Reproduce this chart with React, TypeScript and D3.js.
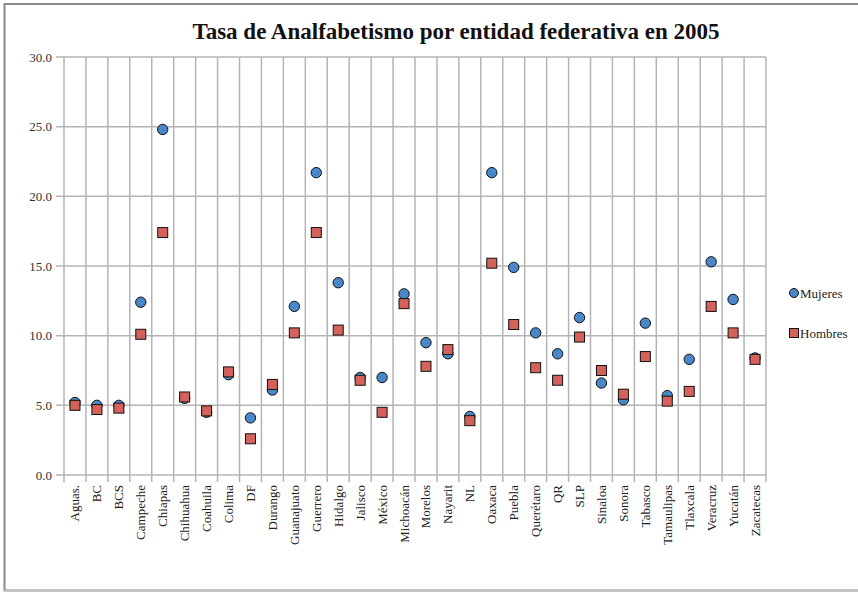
import React from "react";
import * as d3 from "d3";

const categories = ["Aguas.", "BC", "BCS", "Campeche", "Chiapas", "Chihuahua", "Coahuila", "Colima", "DF", "Durango", "Guanajuato", "Guerrero", "Hidalgo", "Jalisco", "México", "Michoacán", "Morelos", "Nayarit", "NL", "Oaxaca", "Puebla", "Querétaro", "QR", "SLP", "Sinaloa", "Sonora", "Tabasco", "Tamaulipas", "Tlaxcala", "Veracruz", "Yucatán", "Zacatecas"];
const mujeres = [5.2, 5.0, 5.0, 12.4, 24.8, 5.5, 4.5, 7.2, 4.1, 6.1, 12.1, 21.7, 13.8, 7.0, 7.0, 13.0, 9.5, 8.7, 4.2, 21.7, 14.9, 10.2, 8.7, 11.3, 6.6, 5.4, 10.9, 5.7, 8.3, 15.3, 12.6, 8.4];
const hombres = [5.0, 4.7, 4.8, 10.1, 17.4, 5.6, 4.6, 7.4, 2.6, 6.5, 10.2, 17.4, 10.4, 6.8, 4.5, 12.3, 7.8, 9.0, 3.9, 15.2, 10.8, 7.7, 6.8, 9.9, 7.5, 5.8, 8.5, 5.3, 6.0, 12.1, 10.2, 8.3];
const yTicks = [0, 5, 10, 15, 20, 25, 30];
const title = "Tasa de Analfabetismo por entidad federativa en 2005";
const seriesNames = ["Mujeres", "Hombres"];

const W = 858, H = 592;
const left = 64, right = 766, top = 57, bottom = 475;
const BLUE = "#4a87c9";
const RED = "#d4625a";
const GRID = "#b4b4b4";
const FONT = "'Liberation Serif', 'Times New Roman', serif";

export default function App() {
  const x = d3.scaleBand<string>().domain(categories).range([left, right]).padding(0);
  const y = d3.scaleLinear().domain([0, 30]).range([bottom, top]);
  const bw = x.bandwidth();
  const fmt = d3.format(".1f");

  return (
    <svg width={W} height={H} style={{ position: "absolute", left: 0, top: 0, background: "#fff" }}>
      <rect x={0} y={0} width={W} height={H} fill="#fff" />
      {/* frame */}
      <path d={`M${W + 2},4 H4.5 V${H - 1.5} H${W + 2}`} fill="none" stroke="#8a8a8a" strokeWidth={2} />
      <line x1={4} x2={W} y1={H - 1} y2={H - 1} stroke="#c4c4c4" strokeWidth={2} />
      <text x={456} y={39} textAnchor="middle" fontFamily={FONT} fontWeight="bold" fontSize={23} fill="#111">{title}</text>
      {/* horizontal gridlines */}
      {yTicks.map((t) => (
        <g key={"y" + t}>
          <line x1={left - 8} x2={right} y1={y(t)} y2={y(t)} stroke={GRID} strokeWidth={1.5} />
          <text x={left - 12} y={y(t) + 4.5} textAnchor="end" fontFamily={FONT} fontSize={13} fill="#333">{fmt(t)}</text>
        </g>
      ))}
      {/* vertical gridlines */}
      {categories.map((c, i) => (
        <line key={"v" + i} x1={x(c)!} x2={x(c)!} y1={top} y2={bottom + 7} stroke={GRID} strokeWidth={1.5} />
      ))}
      <line x1={right} x2={right} y1={top} y2={bottom + 7} stroke={GRID} strokeWidth={1.5} />
      {/* x labels */}
      {categories.map((c) => {
        const cx = x(c)! + bw / 2;
        return (
          <text key={"l" + c} transform={`translate(${cx + 4.5},${bottom + 10}) rotate(-90)`} textAnchor="end" fontFamily={FONT} fontSize={13} fill="#222">{c}</text>
        );
      })}
      {/* markers */}
      {categories.map((c, i) => (
        <circle key={"m" + i} cx={x(c)! + bw / 2} cy={y(mujeres[i])} r={5.2} fill={BLUE} stroke="#111" strokeWidth={1} />
      ))}
      {categories.map((c, i) => (
        <rect key={"h" + i} x={x(c)! + bw / 2 - 5} y={y(hombres[i]) - 5} width={10} height={10} fill={RED} stroke="#111" strokeWidth={1} />
      ))}
      {/* legend */}
      <circle cx={794} cy={293} r={4.5} fill={BLUE} stroke="#111" strokeWidth={1} />
      <text x={800} y={298} fontFamily={FONT} fontSize={13} fill="#222">{seriesNames[0]}</text>
      <rect x={789.5} y={328.5} width={9} height={9} fill={RED} stroke="#111" strokeWidth={1} />
      <text x={800} y={338} fontFamily={FONT} fontSize={13} fill="#222">{seriesNames[1]}</text>
    </svg>
  );
}
